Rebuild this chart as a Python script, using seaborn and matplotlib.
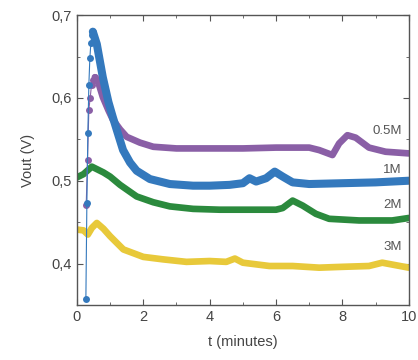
import numpy as np
import pandas as pd
import matplotlib
matplotlib.use("Agg")
import matplotlib.pyplot as plt
import seaborn as sns
from matplotlib.ticker import MultipleLocator

# decay / plateau part of each curve (t in minutes, Vout in V)
t_05 = [0.54, 0.65, 0.78, 0.95, 1.08, 1.3, 1.5, 1.9, 2.3, 3.0, 4.0, 5.0, 6.0, 7.0, 7.3, 7.7, 7.9, 8.15, 8.4, 8.8, 9.3, 10.0]
v_05 = [0.625, 0.618, 0.601, 0.585, 0.574, 0.562, 0.553, 0.546, 0.541, 0.539, 0.539, 0.539, 0.540, 0.540, 0.537, 0.531, 0.545, 0.555, 0.552, 0.540, 0.535, 0.533]

t_1 = [0.48, 0.6, 0.78, 0.95, 1.08, 1.25, 1.39, 1.6, 1.8, 2.2, 2.8, 3.5, 4.0, 4.6, 5.0, 5.2, 5.4, 5.7, 5.96, 6.2, 6.5, 7.0, 8.0, 9.0, 10.0]
v_1 = [0.680, 0.665, 0.625, 0.595, 0.577, 0.555, 0.537, 0.522, 0.512, 0.502, 0.496, 0.494, 0.494, 0.495, 0.497, 0.503, 0.499, 0.503, 0.511, 0.505, 0.498, 0.496, 0.497, 0.498, 0.500]

t_2 = [0.0, 0.2, 0.45, 0.8, 1.0, 1.3, 1.8, 2.3, 2.8, 3.5, 4.3, 5.0, 6.0, 6.2, 6.5, 6.8, 7.2, 7.6, 8.5, 9.5, 10.0]
v_2 = [0.504, 0.508, 0.517, 0.510, 0.505, 0.495, 0.481, 0.474, 0.469, 0.466, 0.465, 0.465, 0.465, 0.467, 0.476, 0.470, 0.460, 0.454, 0.452, 0.452, 0.455]

t_3 = [0.0, 0.2, 0.33, 0.45, 0.6, 0.8, 1.0, 1.4, 2.0, 2.6, 3.3, 4.0, 4.5, 4.76, 5.0, 5.8, 6.5, 7.3, 8.0, 8.8, 9.2, 9.6, 10.0]
v_3 = [0.441, 0.440, 0.435, 0.443, 0.449, 0.442, 0.433, 0.417, 0.408, 0.405, 0.402, 0.403, 0.402, 0.406, 0.401, 0.397, 0.397, 0.395, 0.396, 0.397, 0.401, 0.398, 0.395]

# sparse points on the fast rise
t_rise_1 = [0.27, 0.30, 0.33, 0.36, 0.39, 0.42, 0.45, 0.48]
v_rise_1 = [0.357, 0.473, 0.558, 0.616, 0.648, 0.666, 0.676, 0.680]
t_rise_05 = [0.28, 0.32, 0.36, 0.40, 0.44, 0.48, 0.54]
v_rise_05 = [0.471, 0.525, 0.586, 0.600, 0.616, 0.622, 0.625]

labels = ["0.5M", "1M", "2M", "3M"]
label_y = [0.560, 0.513, 0.471, 0.420]
colors = ["#8a5fa6", "#3479bd", "#2b8a3d", "#e8c93a"]
widths = [4.8, 5.8, 4.8, 4.8]

ytick_vals = [0.4, 0.5, 0.6, 0.7]
ytick_labels = ["0,4", "0,5", "0,6", "0,7"]
xtick_vals = [0, 2, 4, 6, 8, 10]

sns.set_style("ticks")
plt.rcParams["font.family"] = ["Liberation Sans", "DejaVu Sans"]

fig = plt.figure(figsize=(4.18, 3.6), dpi=100)
ax = fig.add_axes([0.184, 0.153, 0.794, 0.805])

series = [(t_05, v_05), (t_1, v_1), (t_2, v_2), (t_3, v_3)]
for (t, v), c, w in zip(series, colors, widths):
    df = pd.DataFrame({"t": t, "v": v})
    sns.lineplot(data=df, x="t", y="v", ax=ax, color=c, linewidth=w,
                 solid_capstyle="round", solid_joinstyle="round")

for t, v, c in [(t_rise_05, v_rise_05, colors[0]), (t_rise_1, v_rise_1, colors[1])]:
    df = pd.DataFrame({"t": t, "v": v})
    sns.lineplot(data=df, x="t", y="v", ax=ax, color=c, linewidth=0.8,
                 marker="o", markersize=5, markeredgewidth=0, sort=False)

for lab, y in zip(labels, label_y):
    ax.text(9.78, y, lab, color="#555555", fontsize=9.5, ha="right", va="center")

ax.set_xlim(0, 10)
ax.set_ylim(0.35, 0.7)
ax.set_xticks(xtick_vals)
ax.set_yticks(ytick_vals)
ax.set_yticklabels(ytick_labels)
ax.xaxis.set_minor_locator(MultipleLocator(1))
ax.yaxis.set_minor_locator(MultipleLocator(0.05))
ax.tick_params(which="both", direction="in", top=True, right=True,
               labelsize=10.5, labelcolor="#444444", color="#555555")
ax.tick_params(which="major", length=4)
ax.tick_params(which="minor", length=2)
for s in ax.spines.values():
    s.set_color("#555555")
    s.set_linewidth(1.0)

ax.set_xlabel("t (minutes)", fontsize=10.5, color="#444444", labelpad=8)
ax.set_ylabel("Vout (V)", fontsize=10.5, color="#444444", labelpad=12)

fig.savefig("out.png", dpi=100)
